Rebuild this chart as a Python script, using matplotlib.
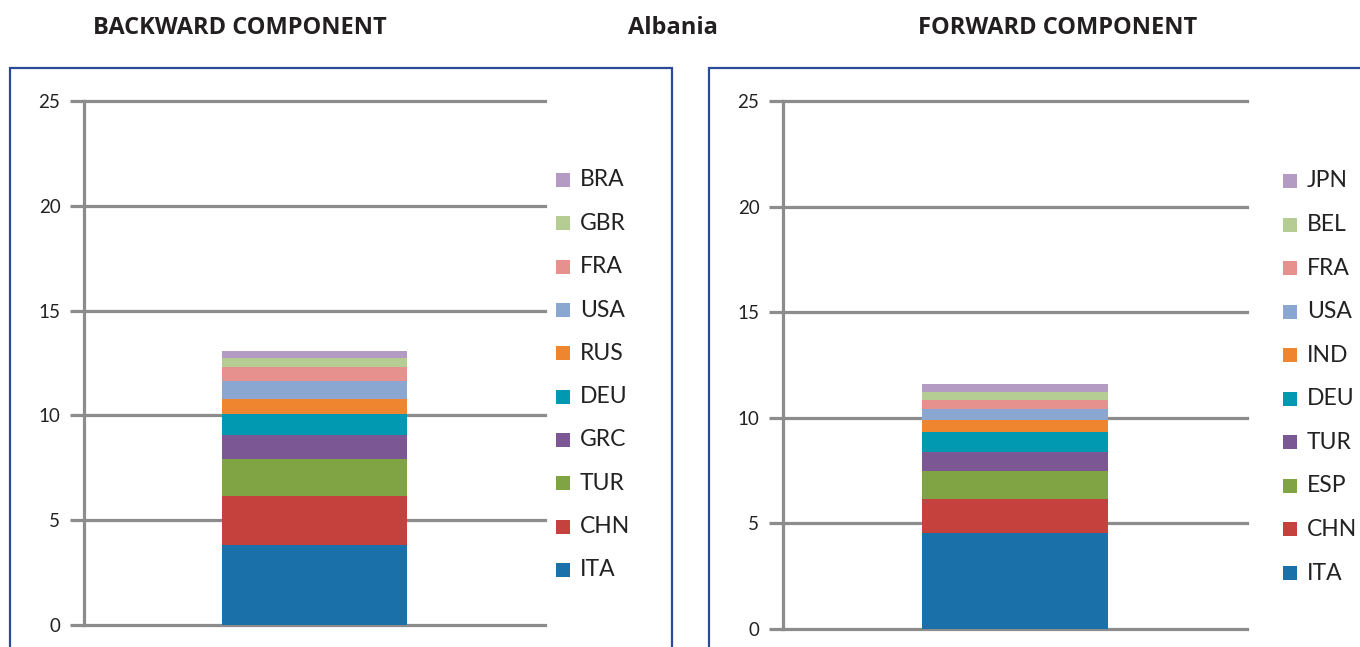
import matplotlib
matplotlib.use('Agg')
import matplotlib.pyplot as plt
from matplotlib.patches import Rectangle

# backward component (value added by source country)
back_names = ['ITA', 'CHN', 'TUR', 'GRC', 'DEU', 'RUS', 'USA', 'FRA', 'GBR', 'BRA']
back_values = [3.80, 2.37, 1.77, 1.12, 0.99, 0.72, 0.87, 0.66, 0.43, 0.33]

# forward component (value added by destination country)
fwd_names = ['ITA', 'CHN', 'ESP', 'TUR', 'DEU', 'IND', 'USA', 'FRA', 'BEL', 'JPN']
fwd_values = [4.53, 1.64, 1.33, 0.90, 0.93, 0.56, 0.51, 0.44, 0.38, 0.38]

colors = ['#1a70a8', '#c5413d', '#80a444', '#7b5893', '#0198b2',
          '#f0852f', '#89a7d0', '#e7918f', '#b5cd93', '#b39bc3']

W, H = 1360, 647
GRID = '#8c8c8c'
BOX = '#2b4a99'

fig = plt.figure(figsize=(W / 100, H / 100), dpi=100)


def px(x, y):
    # pixel (from top-left) -> figure fraction
    return x / W, 1 - y / H


def panel(names, values, ax_px, box_px, leg_px):
    x0, y0, x1, y1 = ax_px
    l, b = px(x0, y1)
    ax = fig.add_axes([l, b, (x1 - x0) / W, (y1 - y0) / H])

    bottom = 0
    for name, val, c in zip(names, values, colors):
        ax.bar(0, val, width=0.4, bottom=bottom, color=c, zorder=3)
        bottom += val

    ax.set_xlim(-0.5, 0.5)
    ax.set_ylim(0, 25)
    ax.set_yticks(range(0, 26, 5))
    for yv in range(0, 26, 5):
        ax.axhline(yv, color=GRID, lw=2.3, zorder=1, clip_on=False)
    for s in ['top', 'right', 'bottom']:
        ax.spines[s].set_visible(False)
    ax.spines['left'].set_color(GRID)
    ax.spines['left'].set_linewidth(2.3)
    ax.set_xticks([])
    ax.tick_params(axis='y', length=10, width=2.3, color=GRID, pad=7,
                   labelsize=13.5, labelcolor='#222222')
    for t in ax.get_yticklabels():
        t.set_fontfamily('Lato')

    # panel frame, open at the bottom edge of the figure
    bx0, by0, bx1 = box_px
    fl, fb = px(bx0, H + 10)
    fr, ft = px(bx1, by0)
    fig.patches.append(Rectangle((fl, fb), fr - fl, ft - fb, transform=fig.transFigure,
                                 fill=False, edgecolor=BOX, lw=1.6, zorder=0))

    # legend, top entry is the last series
    lx, ly_top, ly_bot = leg_px
    n = len(names)
    step = (ly_bot - ly_top) / (n - 1)
    sq = 14
    for i, (name, c) in enumerate(zip(names[::-1], colors[::-1])):
        cy = ly_top + i * step
        rl, rb = px(lx, cy + sq / 2)
        fig.patches.append(Rectangle((rl, rb), sq / W, sq / H, transform=fig.transFigure,
                                     facecolor=c, edgecolor='none'))
        tx, ty = px(lx + sq + 10, cy)
        fig.text(tx, ty, name, fontsize=16.5, family='Lato', color='#222222',
                 va='center', ha='left')
    return ax


panel(back_names, back_values, (84, 101, 545, 625), (10, 68, 672), (556, 180, 570))
panel(fwd_names, fwd_values, (783, 101, 1247, 629), (709, 68, 1375), (1283, 181, 573))

for x, s in [(240, 'BACKWARD COMPONENT'), (673, 'Albania'), (1058, 'FORWARD COMPONENT')]:
    fx, fy = px(x, 28)
    fig.text(fx, fy, s, fontsize=17, fontweight='bold', family='Open Sans',
             color='#231f20', ha='center', va='center')

fig.savefig('out.png', dpi=100)
